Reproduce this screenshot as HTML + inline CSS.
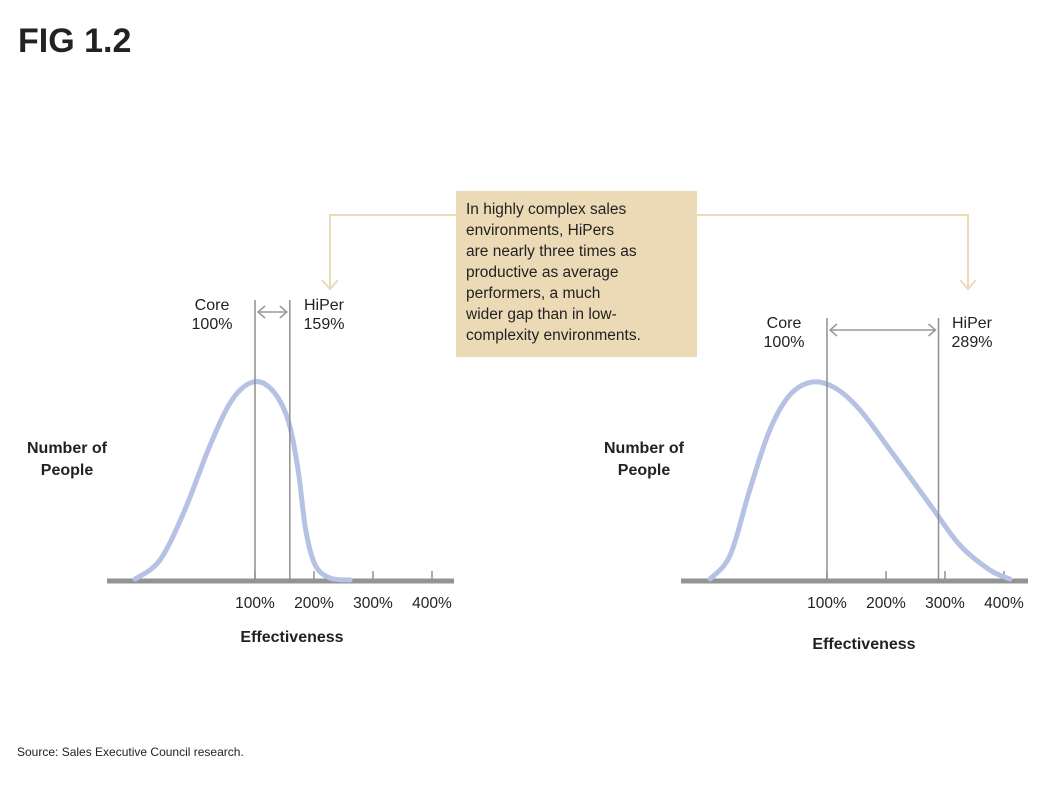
<!DOCTYPE html>
<html><head><meta charset="utf-8"><style>
body{margin:0;background:#fff;width:1060px;height:782px;overflow:hidden}
svg text{font-family:"Liberation Sans",sans-serif;fill:#222}
</style></head><body>
<svg width="1060" height="782" viewBox="0 0 1060 782">
<text x="18" y="52" font-size="34" font-weight="bold" fill="#111">FIG 1.2</text>
<g stroke="#eadcb8" stroke-width="2" fill="none">
<polyline points="456,215 330,215 330,288"/><polyline points="322,280 330,289 338,280"/>
<polyline points="697,215 968,215 968,288"/><polyline points="960,280 968,289 976,280"/>
</g>
<rect x="456" y="191" width="241" height="166" fill="#ecdab6"/>
<text font-size="15.5">
<tspan x="466" y="214">In highly complex sales</tspan>
<tspan x="466" y="235">environments, HiPers</tspan>
<tspan x="466" y="256">are nearly three times as</tspan>
<tspan x="466" y="277">productive as average</tspan>
<tspan x="466" y="298">performers, a much</tspan>
<tspan x="466" y="319">wider gap than in low-</tspan>
<tspan x="466" y="340">complexity environments.</tspan>
</text>
<g id="left"></g>
<g id="right"></g>
<text x="17" y="756" font-size="12">Source: Sales Executive Council research.</text>
</svg>
<script>
const tickLabels=["100%","200%","300%","400%"];
const tickValues=[100,200,300,400];
const leftX=[-103,-61,-19,24,61,97,129,156,173,186,202,227,261];
const leftY=[2,21,71,136,181,199,191,161,111,51,16,3,1];
const rightX=[-98,-64,-31,3,37,75,114,156,207,275,325,376,410];
const rightY=[2,26,91,151,186,199,193,171,131,76,36,11,2];
const leftCore=100, leftHiPer=159;
const rightCore=100, rightHiPer=289;
const NS="http://www.w3.org/2000/svg";
function mk(p,t,a){const e=document.createElementNS(NS,t);for(const k in a)e.setAttribute(k,a[k]);p.appendChild(e);return e;}
function draw(g,o){
  const base=581, x0=o.x100;
  const sx=v=>x0+(v-100)*0.59;
  const sy=h=>base-h;
  let ax=mk(g,'line',{x1:o.ax0,x2:o.ax0+347,y1:base,y2:base,stroke:'#939393','stroke-width':5});
  
  
  tickValues.forEach((v,i)=>{
    let t=mk(g,'line',{x1:sx(v),x2:sx(v),y1:base-10,y2:base,stroke:'#939393','stroke-width':1.5});
    
    
    let l=mk(g,'text',{x:sx(v),y:base+27,'font-size':15.5,'text-anchor':'middle'});
    l.textContent=tickLabels[i];
    
    
  });
  // curve (Catmull-Rom)
  const pts=o.xs.map((v,i)=>[sx(v),sy(o.ys[i])]);
  let d='M'+pts[0];
  for(let i=0;i<pts.length-1;i++){
    const p0=pts[i-1]||pts[i],p1=pts[i],p2=pts[i+1],p3=pts[i+2]||p2;
    const c1=[p1[0]+(p2[0]-p0[0])/6,p1[1]+(p2[1]-p0[1])/6];
    const c2=[p2[0]-(p3[0]-p1[0])/6,p2[1]-(p3[1]-p1[1])/6];
    d+=' C'+c1+' '+c2+' '+p2;
  }
  let c=mk(g,'path',{d:d,fill:'none',stroke:'#b6c2e3','stroke-width':5,'stroke-linecap':'round'});
  
  
  const xc=sx(o.core), xh=sx(o.hiper);
  [xc,xh].forEach(x=>{
    let v=mk(g,'line',{x1:x,x2:x,y1:o.vtop,y2:base,stroke:'#8f8f8f','stroke-width':1.5});
    
    
  });
  const ay=o.vtop+12;
  let ar=mk(g,'path',{d:`M${xc+3},${ay}H${xh-3}M${xc+10},${ay-6}L${xc+3},${ay}L${xc+10},${ay+6}M${xh-10},${ay-6}L${xh-3},${ay}L${xh-10},${ay+6}`,fill:'none',stroke:'#999','stroke-width':1.5});
  
  
  const lab=(x,y,t,n,w)=>{let e=mk(g,'text',{x:x,y:y,'font-size':16,'text-anchor':'middle','font-weight':w||'normal'});e.textContent=t;};
  lab(o.coreLx,o.vtop+10,'Core','core-label');lab(o.coreLx,o.vtop+29,o.core+'%','core-value');
  lab(o.hiLx,o.vtop+10,'HiPer','hiper-label');lab(o.hiLx,o.vtop+29,o.hiper+'%','hiper-value');
  lab(o.yLx,453,'Number of','y-axis-title','bold');lab(o.yLx,475,'People','y-axis-title','bold');
  lab(o.xLx,o.xLy,'Effectiveness','x-axis-title','bold');
}
draw(document.getElementById('left'),{x100:255,ax0:107,xs:leftX,ys:leftY,core:leftCore,hiper:leftHiPer,vtop:300,coreLx:212,hiLx:324,yLx:67,xLx:292,xLy:642});
draw(document.getElementById('right'),{x100:827,ax0:681,xs:rightX,ys:rightY,core:rightCore,hiper:rightHiPer,vtop:318,coreLx:784,hiLx:972,yLx:644,xLx:864,xLy:649});
</script>
</body></html>
